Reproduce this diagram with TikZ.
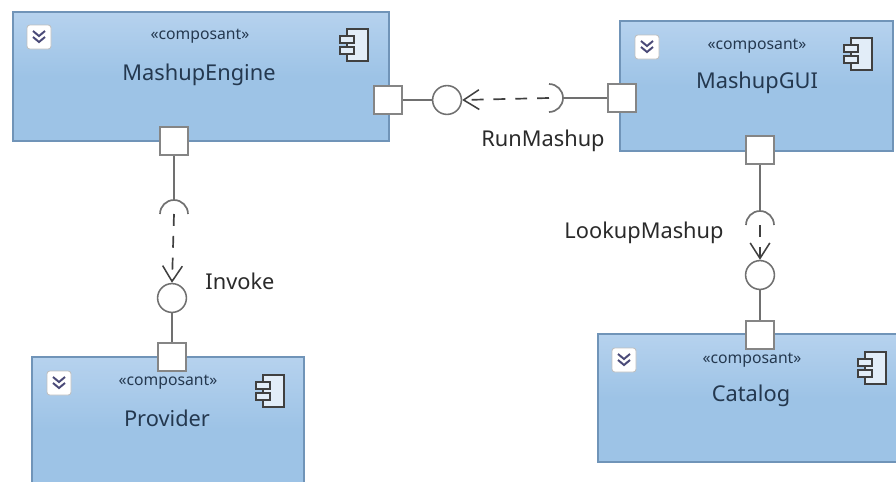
\documentclass[tikz,border=0pt]{standalone}
\usepackage{fontspec}
\setmainfont{Noto Sans}
\usetikzlibrary{arrows.meta}
\definecolor{boxtop}{HTML}{B6D2EE}
\definecolor{boxbot}{HTML}{9DC3E6}
\definecolor{boxline}{HTML}{7094B8}
\definecolor{portline}{HTML}{858585}
\definecolor{wire}{HTML}{707070}
\definecolor{nametext}{HTML}{24384F}
\definecolor{labtext}{HTML}{2A2A2A}
\definecolor{chev}{HTML}{4A4A78}
\tikzset{
  comp/.style={draw=boxline, line width=1pt, top color=boxtop, bottom color=boxbot, middle color=boxbot, inner sep=0pt},
  port/.style={draw=portline, line width=1.4pt, fill=white, minimum size=0.72cm, inner sep=0pt},
  ball/.style={circle, draw=wire, line width=1.1pt, fill=white, minimum size=0.72cm, inner sep=0pt},
  wireline/.style={draw=wire, line width=1.2pt},
  dep/.style={draw=black!75, line width=1.2pt, dash pattern=on 8.5pt off 7pt, -{Straight Barb[length=11pt,width=14pt,line width=1.1pt]}},
  stereo/.style={text=nametext, font=\fontsize{11.2}{12}\selectfont},
  cname/.style={text=nametext, font=\fontsize{15.5}{16}\selectfont},
  lab/.style={text=labtext, font=\fontsize{15.5}{16}\selectfont},
  toggle/.pic={
    \draw[draw=black!25, fill=white, rounded corners=2pt, line width=0.6pt] (-12,-12) rectangle (12,12);
    \draw[draw=chev, line width=1.4pt] (-6,-6)--(0,-1)--(6,-6);
    \draw[draw=chev, line width=1.4pt] (-6,0)--(0,5)--(6,0);
  },
  compicon/.pic={
    \draw[draw=black!75, fill=boxtop!40, line width=1.2pt] (-7,-16) rectangle (14,16);
    \draw[draw=black!75, fill=boxtop!40, line width=1.2pt] (-14,-9) rectangle (0,-2);
    \draw[draw=black!75, fill=boxtop!40, line width=1.2pt] (-14,2) rectangle (0,9);
  },
}
\begin{document}
\begin{tikzpicture}[x=0.025cm, y=-0.025cm]
  \useasboundingbox (0,0) rectangle (896,481);
  \clip (0,0) rectangle (896,481);

  % components
  \node[comp, minimum width=9.4cm, minimum height=3.225cm] (engine) at (201,76.5) {};
  \node[comp, minimum width=6.825cm, minimum height=3.25cm] (gui) at (756.5,86) {};
  \node[comp, minimum width=6.8cm, minimum height=3.6cm] (provider) at (168,429) {};
  \node[comp, minimum width=7.5cm, minimum height=3.2cm] (catalog) at (748,398) {};

  \node[stereo] (enginest) at (200,36) {«composant»};
  \node[cname] (enginename) at (199,75) {MashupEngine};
  \node[stereo] (guist) at (757,46) {«composant»};
  \node[cname] (guiname) at (757,83) {MashupGUI};
  \node[stereo] (providerst) at (168,382) {«composant»};
  \node[cname] (providername) at (167,418) {Provider};
  \node[stereo] (catalogst) at (752,360) {«composant»};
  \node[cname] (catalogname) at (751,396) {Catalog};

  \pic at (39,37) {toggle};
  \pic at (647,47) {toggle};
  \pic at (59,383) {toggle};
  \pic at (624,360) {toggle};
  \pic at (354,45) {compicon};
  \pic at (858,54) {compicon};
  \pic at (270,391) {compicon};
  \pic at (872,368) {compicon};

  % ports
  \node[port] (engineright) at (388,100) {};
  \node[port] (enginebot) at (174,141) {};
  \node[port] (guileft) at (622,98) {};
  \node[port] (guibot) at (760,150) {};
  \node[port] (providertop) at (172,357) {};
  \node[port] (catalogtop) at (760,335) {};

  % provided interfaces
  \node[ball] (runball) at (447,100) {};
  \node[ball] (invokeball) at (172,298) {};
  \node[ball] (lookupball) at (760,275) {};

  % required interfaces
  \coordinate (runsock) at (549,98);
  \coordinate (invokesock) at (174,214);
  \coordinate (lookupsock) at (760,225);
  \coordinate (runback) at (563,98);
  \coordinate (invokeback) at (174,200);
  \coordinate (lookupback) at (760,211);

  \draw[wireline] (engineright)--(runball);
  \draw[wireline] (guileft)--(runback);
  \draw[wireline] (enginebot)--(invokeback);
  \draw[wireline] (providertop)--(invokeball);
  \draw[wireline] (guibot)--(lookupback);
  \draw[wireline] (catalogtop)--(lookupball);

  \draw[wireline] (549,84) arc[start angle=-90, end angle=90, radius=14];
  \draw[wireline] (160,214) arc[start angle=180, end angle=360, radius=14];
  \draw[wireline] (746,225) arc[start angle=180, end angle=360, radius=14];

  \draw[dep] (runsock)--(runball.east);
  \draw[dep] (invokesock)--(invokeball.north);
  \draw[dep] (lookupsock)--(lookupball.north);

  \node[lab] (runlab) at (543,141) {RunMashup};
  \node[lab] (invokelab) at (240,281) {Invoke};
  \node[lab] (lookuplab) at (644,233) {LookupMashup};
\end{tikzpicture}
\end{document}
